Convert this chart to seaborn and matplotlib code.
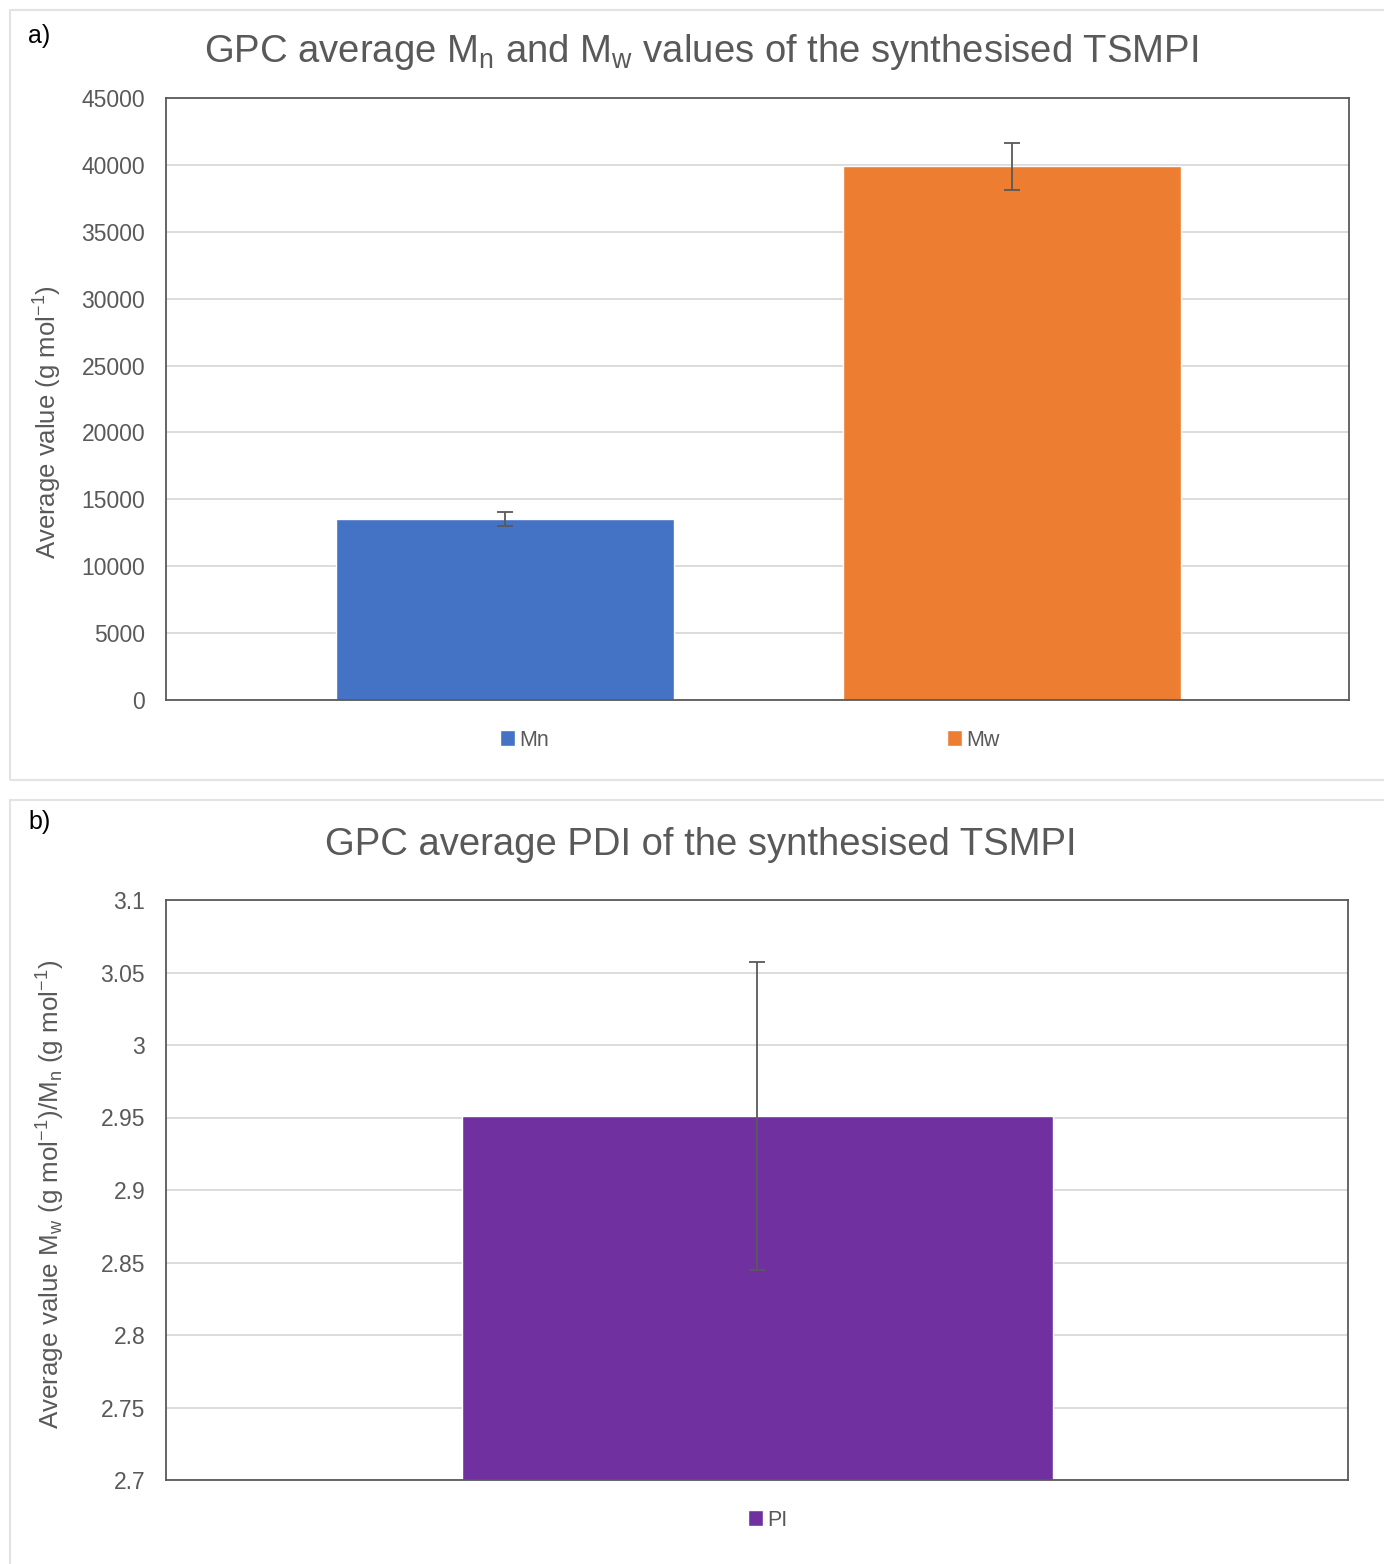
import numpy as np
import pandas as pd
import matplotlib
matplotlib.use('Agg')
import matplotlib.pyplot as plt
from matplotlib.patches import Patch, Rectangle
import seaborn as sns

# 데이터
mw_labels = ['Mn', 'Mw']
mw_values = [13530, 39900]
mw_errors = [500, 1750]
mw_colors = ['#4472C4', '#ED7D31']

pi_labels = ['PI']
pi_values = [2.951]
pi_errors = [0.106]
pi_colors = ['#7030A0']

sns.set_theme(style='white')
plt.rcParams['font.family'] = ['Liberation Sans', 'DejaVu Sans']
plt.rcParams['mathtext.fontset'] = 'custom'
plt.rcParams['mathtext.rm'] = 'Liberation Sans'
plt.rcParams['mathtext.it'] = 'Liberation Sans'

txt = '#595959'
grid = '#D9D9D9'

fig = plt.figure(figsize=(13.84, 15.64), dpi=100)

# 패널 테두리
H = 1564
W = 1384
fig.patches.append(Rectangle((10 / W, 1 - 780 / H), 1.0, 770 / H, transform=fig.transFigure,
                             facecolor='none', edgecolor='#E3E3E3', lw=1.5, zorder=-1))
fig.patches.append(Rectangle((10 / W, 1 - 1570 / H), 1.0, 770 / H, transform=fig.transFigure,
                             facecolor='none', edgecolor='#E3E3E3', lw=1.5, zorder=-1))


def style_axes(ax, ticks):
    ax.set_yticks(ticks)
    ax.yaxis.grid(True, color=grid, lw=1.3)
    ax.set_axisbelow(True)
    for s in ax.spines.values():
        s.set_visible(True)
        s.set_color('#595959')
        s.set_linewidth(1.3)
    ax.tick_params(axis='y', length=0, labelsize=16.5, labelcolor=txt, pad=15)
    ax.set_xticks([])
    ax.set_xlabel('')


# a) Mn, Mw
ax1 = fig.add_axes([166 / W, 1 - 700 / H, 1183 / W, 602 / H])
df1 = pd.DataFrame({'label': mw_labels, 'value': mw_values})
sns.barplot(data=df1, x='label', y='value', hue='label', palette=mw_colors,
            width=0.667, saturation=1, errorbar=None, legend=False, ax=ax1)
ax1.errorbar(range(len(mw_labels)), mw_values, yerr=mw_errors, fmt='none',
             ecolor='#595959', elinewidth=1.3, capsize=6, capthick=1.3)
ax1.set_xlim(-0.669, 1.666)
ax1.set_ylim(0, 45000)
style_axes(ax1, np.arange(0, 45001, 5000))
ax1.set_ylabel('Average value (g mol$^{-1}$)', fontsize=18.5, color=txt)
ax1.yaxis.set_label_coords(-0.0862, 0.462)
fig.text(701 / W, 1 - 52 / H, 'GPC average M$_\\mathregular{n}$ and M$_\\mathregular{w}$ values of the synthesised TSMPI',
         ha='center', va='center', fontsize=27.5, color=txt)
fig.text(28 / W, 1 - 36 / H, 'a)', ha='left', va='center', fontsize=18, color='black')
h1 = [Patch(facecolor=c, label=l) for c, l in zip(mw_colors, mw_labels)]
fig.legend(handles=h1, loc='center', bbox_to_anchor=(750 / W, 1 - 740 / H), ncol=2,
           frameon=False, fontsize=15.5, labelcolor=txt, handlelength=0.7, handleheight=0.7,
           handletextpad=0.2, columnspacing=18.5)

# b) PDI
ax2 = fig.add_axes([166 / W, 1 - 1480 / H, 1182 / W, 580 / H])
df2 = pd.DataFrame({'label': pi_labels, 'value': pi_values})
sns.barplot(data=df2, x='label', y='value', hue='label', palette=pi_colors,
            width=0.5, saturation=1, errorbar=None, legend=False, ax=ax2)
ax2.errorbar(range(len(pi_labels)), pi_values, yerr=pi_errors, fmt='none',
             ecolor='#595959', elinewidth=1.3, capsize=6, capthick=1.3)
ax2.set_xlim(-0.5, 0.5)
ax2.set_ylim(2.7, 3.1)
style_axes(ax2, [2.7, 2.75, 2.8, 2.85, 2.9, 2.95, 3.0, 3.05, 3.1])
ax2.set_yticklabels(['2.7', '2.75', '2.8', '2.85', '2.9', '2.95', '3', '3.05', '3.1'])
ax2.set_ylabel('Average value M$_\\mathregular{w}$ (g mol$^{-1}$)/M$_\\mathregular{n}$ (g mol$^{-1}$)',
               fontsize=18.7, color=txt)
ax2.yaxis.set_label_coords(-0.0837, 0.493)
fig.text(701 / W, 1 - 845 / H, 'GPC average PDI of the synthesised TSMPI',
         ha='center', va='center', fontsize=27.5, color=txt)
fig.text(28 / W, 1 - 822 / H, 'b)', ha='left', va='center', fontsize=18, color='black')
h2 = [Patch(facecolor=c, label=l) for c, l in zip(pi_colors, pi_labels)]
fig.legend(handles=h2, loc='center', bbox_to_anchor=(768 / W, 1 - 1520 / H), ncol=1,
           frameon=False, fontsize=15.5, labelcolor=txt, handlelength=0.7, handleheight=0.7,
           handletextpad=0.2)

fig.savefig('out.png', dpi=100, facecolor='white')
